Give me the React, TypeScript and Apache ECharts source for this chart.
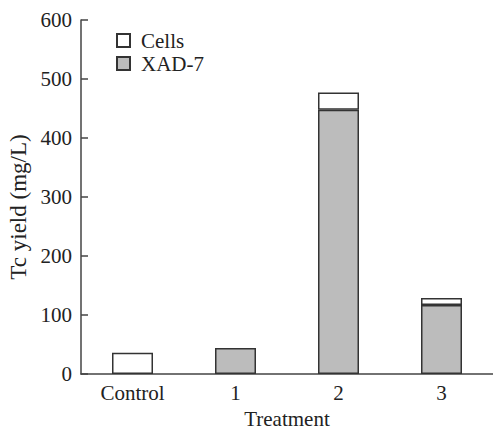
import React, { useEffect, useRef } from "react";
import * as echarts from "echarts";

const categories = ["Control", "1", "2", "3"];
const xadValues = [null, 44, 448, 117];
const cellValues = [36, null, 29, 12];
const yTicks = [0, 100, 200, 300, 400, 500, 600];
const yAxisTitle = "Tc yield (mg/L)";

export default function App() {
  const ref = useRef<HTMLDivElement>(null);
  useEffect(() => {
    document.body.style.margin = "0";
    if (!ref.current) return;
    const chart = echarts.init(ref.current, null, { renderer: "svg" });
    const font = "serif";
    const fs = 21;
    const border = { borderColor: "#333", borderWidth: 1.5 };
    chart.setOption({
      animation: false,
      textStyle: { fontFamily: font },
      grid: { left: 81, right: 0, top: 20, bottom: 52, outerBoundsMode: "none", containLabel: false },
      legend: {
        orient: "vertical",
        left: 111,
        top: 25,
        itemWidth: 13,
        itemHeight: 13,
        itemGap: 2,
        icon: "rect",
        data: ["Cells", "XAD-7"],
        textStyle: { fontFamily: font, fontSize: fs, color: "#222", padding: [0, 0, 0, 6] },
      },
      graphic: [
        {
          type: "text",
          x: 18,
          y: 207,
          rotation: Math.PI / 2,
          style: {
            text: yAxisTitle,
            fontFamily: font,
            fontSize: 23,
            fill: "#222",
            align: "center",
            verticalAlign: "middle",
          },
        },
      ],
      xAxis: {
        type: "category",
        data: categories,
        name: "Treatment",
        nameLocation: "middle",
        nameGap: 34,
        nameMoveOverlap: false,
        nameTextStyle: { fontFamily: font, fontSize: fs, color: "#222" },
        axisLine: { lineStyle: { color: "#444", width: 1.5 } },
        axisTick: { show: false },
        axisLabel: { fontFamily: font, fontSize: fs, color: "#222", margin: 8 },
      },
      yAxis: {
        type: "value",
        min: yTicks[0],
        max: yTicks[yTicks.length - 1],
        interval: 100,
        splitLine: { show: false },
        axisLine: { show: true, lineStyle: { color: "#444", width: 1.5 } },
        axisTick: { show: true, inside: true, length: 7, lineStyle: { color: "#444", width: 1.5 } },
        axisLabel: { fontFamily: font, fontSize: fs, color: "#222", margin: 9 },
      },
      series: [
        {
          name: "XAD-7",
          type: "bar",
          stack: "total",
          barWidth: 41,
          data: xadValues,
          itemStyle: { color: "#bcbcbc", ...border },
        },
        {
          name: "Cells",
          type: "bar",
          stack: "total",
          barWidth: 41,
          data: cellValues,
          itemStyle: { color: "#ffffff", ...border },
        },
      ],
    });
    return () => chart.dispose();
  }, []);
  return <div ref={ref} style={{ width: 493, height: 426 }} />;
}
